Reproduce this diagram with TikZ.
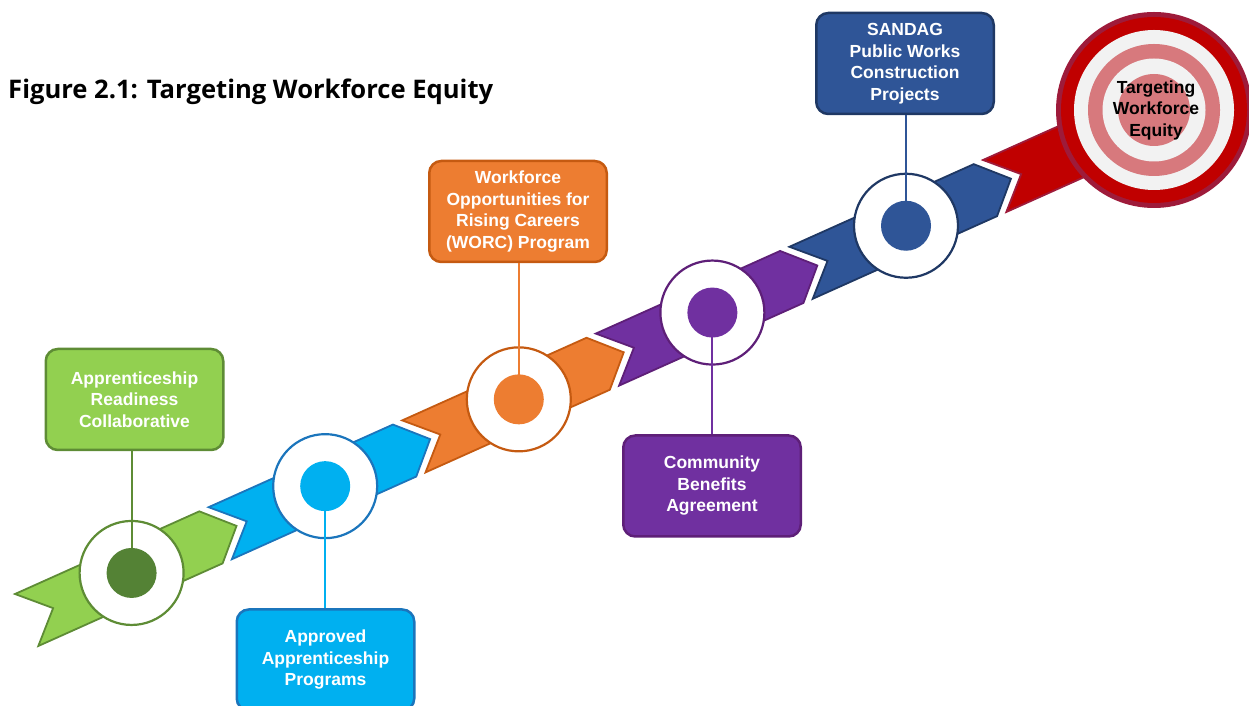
\documentclass[tikz,border=0pt]{standalone}
\usepackage{fontspec}
\setmainfont{Liberation Sans}
\newfontfamily\titlefont{Open Sans}
\definecolor{gfill}{HTML}{92D050}
\definecolor{gdark}{HTML}{5E8C35}
\definecolor{gdot}{HTML}{548235}
\definecolor{bfill}{HTML}{00B0F0}
\definecolor{bdark}{HTML}{1B75BC}
\definecolor{ofill}{HTML}{ED7D31}
\definecolor{odark}{HTML}{C55A11}
\definecolor{pfill}{HTML}{7030A0}
\definecolor{pdark}{HTML}{5E1F78}
\definecolor{nfill}{HTML}{2F5597}
\definecolor{ndark}{HTML}{1F3864}
\definecolor{rfill}{HTML}{C00000}
\definecolor{rdark}{HTML}{9E1B3A}
\definecolor{tpink}{HTML}{D7797D}
\definecolor{twhite}{HTML}{F2F2F2}
\begin{document}
\begin{tikzpicture}[x=1pt,y=1pt,
  seg/.style={line width=1.8pt, line join=miter},
  ring/.style={circle, fill=white, line width=2.2pt, minimum size=104pt, inner sep=0pt},
  dotnode/.style={circle, inner sep=0pt, minimum size=50pt},
  box/.style={rounded corners=12pt, line width=2.5pt, minimum width=177.5pt, minimum height=101pt,
    text=white, font=\bfseries\fontsize{17.5}{21.5}\selectfont, align=center, inner sep=0pt},
  conn/.style={line width=2pt}
]
\useasboundingbox (0,0) rectangle (1249,706);
\clip (0,0) rectangle (1249,706);

% chevron segments with rings
\foreach \k/\fc/\dc/\nm in {0/gfill/gdark/g, 1/bfill/bdark/b, 2/ofill/odark/o, 3/pfill/pdark/p, 4/nfill/ndark/n} {
  \begin{scope}[shift={({15+193.6*\k},{112+86.8*\k})}, rotate=24.15]
    \draw[seg, fill=\fc, draw=\dc] (0,0) -- (202,0) -- (230,-28.5) -- (202,-57) -- (0,-57) -- (29,-28.5) -- cycle;
    \node[ring, draw=\dc] (\nm ring) at (115,-28.5) {};
  \end{scope}
}
% red final segment
\begin{scope}[shift={(983,546)}, rotate=24.15]
  \draw[seg, fill=rfill, draw=rdark] (0,0) -- (180,0) -- (180,-57) -- (0,-57) -- (29,-28.5) -- cycle;
\end{scope}

% target
\node[circle, fill=rdark, minimum size=196pt, inner sep=0pt] (target) at (1154,596) {};
\fill[rfill] (target.center) circle (93);
\fill[twhite] (target.center) circle (80);
\fill[tpink] (target.center) circle (66);
\fill[twhite] (target.center) circle (51.5);
\fill[tpink] (target.center) circle (36);
\node[font=\bfseries\fontsize{17.5}{21.5}\selectfont, align=center, text=black] (ttext) at (1156,596) {Targeting\\Workforce\\Equity};

% title
\node[anchor=base west, inner sep=0pt, font=\titlefont\bfseries\fontsize{25.6}{30}\selectfont] (title) at (8,607) {Figure 2.1: Targeting Workforce Equity};

% boxes
\node[box, fill=gfill, draw=gdark] (gbox) at (134.5,306.5) {Apprenticeship\\Readiness\\Collaborative};
\node[box, fill=bfill, draw=bdark] (bbox) at (325.5,46) {Approved\\Apprenticeship\\Programs};
\node[box, fill=ofill, draw=odark] (obox) at (518,494.5) {Workforce\\Opportunities for\\Rising Careers\\(WORC) Program};
\node[box, fill=pfill, draw=pdark] (pbox) at (712,220) {Community\\Benefits\\Agreement};
\node[box, fill=nfill, draw=ndark] (nbox) at (905,642.5) {SANDAG\\Public Works\\Construction\\Projects};

% connectors
\draw[conn, gdark] (gbox.south -| gring.center) -- (gring.center);
\draw[conn, bfill] (bbox.north -| bring.center) -- (bring.center);
\draw[conn, ofill] (obox.south -| oring.center) -- (oring.center);
\draw[conn, pfill] (pbox.north -| pring.center) -- (pring.center);
\draw[conn, nfill] (nbox.south -| nring.center) -- (nring.center);

% dots
\node[dotnode, fill=gdot] (gdotn) at (gring.center) {};
\node[dotnode, fill=bfill] (bdotn) at (bring.center) {};
\node[dotnode, fill=ofill] (odotn) at (oring.center) {};
\node[dotnode, fill=pfill] (pdotn) at (pring.center) {};
\node[dotnode, fill=nfill] (ndotn) at (nring.center) {};
\end{tikzpicture}
\end{document}
